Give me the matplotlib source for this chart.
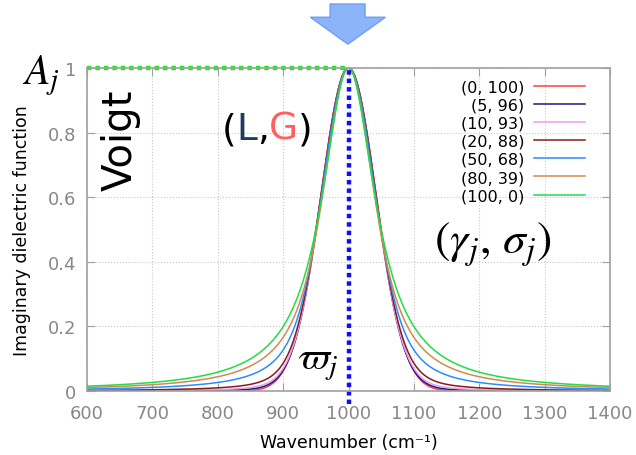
import numpy as np
import matplotlib.pyplot as plt
from matplotlib.patches import Polygon
from matplotlib.offsetbox import TextArea, HPacker, AnchoredOffsetbox

plt.rcParams['mathtext.fontset'] = 'stix'

# (L, G) widths in cm-1 and line colours
lorentz_w = [0, 5, 10, 20, 50, 80, 100]
gauss_w = [100, 96, 93, 88, 68, 39, 0]
colors = ['#ff4040', '#1a1a8c', '#e8a0e8', '#8b1a1a', '#2a8cff', '#d08a50', '#22dd44']
center = 1000

x_ticks = [600, 700, 800, 900, 1000, 1100, 1200, 1300, 1400]
y_ticks = [0, 0.2, 0.4, 0.6, 0.8, 1]


def voigt(x, L, G):
    # numerical convolution of lorentzian (FWHM L) and gaussian (FWHM G)
    d = x - center
    if G == 0:
        return 1 / (1 + (2 * d / L) ** 2)
    sig = G / (2 * np.sqrt(2 * np.log(2)))
    if L == 0:
        return np.exp(-d ** 2 / (2 * sig ** 2))
    t = np.linspace(-600, 600, 6001)
    g = np.exp(-t ** 2 / (2 * sig ** 2))
    y = np.array([np.sum(g / (1 + (2 * (di - t) / L) ** 2)) for di in d])
    return y / y.max()


fig = plt.figure(figsize=(6.36, 4.56), dpi=100)
ax = fig.add_axes([0.137, 0.140, 0.822, 0.709])

x = np.linspace(600, 1400, 801)
for L, G, c in zip(lorentz_w, gauss_w, colors):
    ax.plot(x, voigt(x, L, G), color=c, lw=1.1, label='(%d, %d)' % (L, G))

ax.set_xlim(600, 1400)
ax.set_ylim(0, 1)
ax.set_xticks(x_ticks)
ax.set_yticks(y_ticks)
ax.set_yticklabels(['0', '0.2', '0.4', '0.6', '0.8', '1'])
ax.grid(True, color='#c8c8c8', ls=':', lw=0.8)
ax.tick_params(direction='in', top=True, right=True, length=6, color='#a0a0a0',
               labelcolor='#888888', labelsize=13)
ax.tick_params(axis='x', pad=9)
ax.tick_params(axis='y', pad=8)
for s in ax.spines.values():
    s.set_color('#a0a0a0')
    s.set_linewidth(1.2)

ax.set_xlabel('Wavenumber (cm⁻¹)', fontsize=12.5, labelpad=8)
ax.set_ylabel('Imaginary dielectric function', fontsize=12.5, labelpad=12)

leg = ax.legend(loc='upper right', bbox_to_anchor=(0.965, 0.985), frameon=False,
                markerfirst=False, fontsize=11.5, handlelength=3.2,
                labelspacing=0.2, handletextpad=0.6, borderaxespad=0)
for t in leg.get_texts():
    t.set_ha('right')

# guide lines
ax.plot([600, center], [1, 1], color='#11ee11', lw=3.2, dashes=(1, 0.9),
        clip_on=False)
ax.plot([center, center], [-0.04, 1], color='#1010ee', lw=3.2, dashes=(1, 0.9),
        clip_on=False)

# annotations
fig.text(0.035, 0.815, '$A_j$', fontsize=30)
ax.text(652, 0.78, 'Voigt', rotation=90, fontsize=29, ha='center', va='center')

parts = [('(', 'black'), ('L', '#1f3a60'), (',', 'black'), ('G', '#ff6060'), (')', 'black')]
pack = HPacker(children=[TextArea(s, textprops=dict(fontsize=27, color=c))
                         for s, c in parts], sep=0, align='baseline')
box = AnchoredOffsetbox(loc='center', child=pack, frameon=False, pad=0,
                        bbox_to_anchor=(267 / 636, 1 - 130 / 456),
                        bbox_transform=fig.transFigure)
ax.add_artist(box)

ax.text(1220, 0.455, r'$\left(\gamma_j,\,\sigma_j\right)$', fontsize=33,
        ha='center', va='center')
ax.text(953, 0.09, r'$\varpi_j$', fontsize=29, ha='center', va='center')

# arrow at the top
arrow = Polygon([[0.519, 0.989], [0.574, 0.989], [0.574, 0.96], [0.606, 0.96],
                 [0.547, 0.901], [0.488, 0.96], [0.519, 0.96]],
                closed=True, transform=fig.transFigure, facecolor='#8cb4f8',
                edgecolor='#6f9cf5', lw=1)
fig.patches.append(arrow)

plt.savefig('out.png', dpi=100)
